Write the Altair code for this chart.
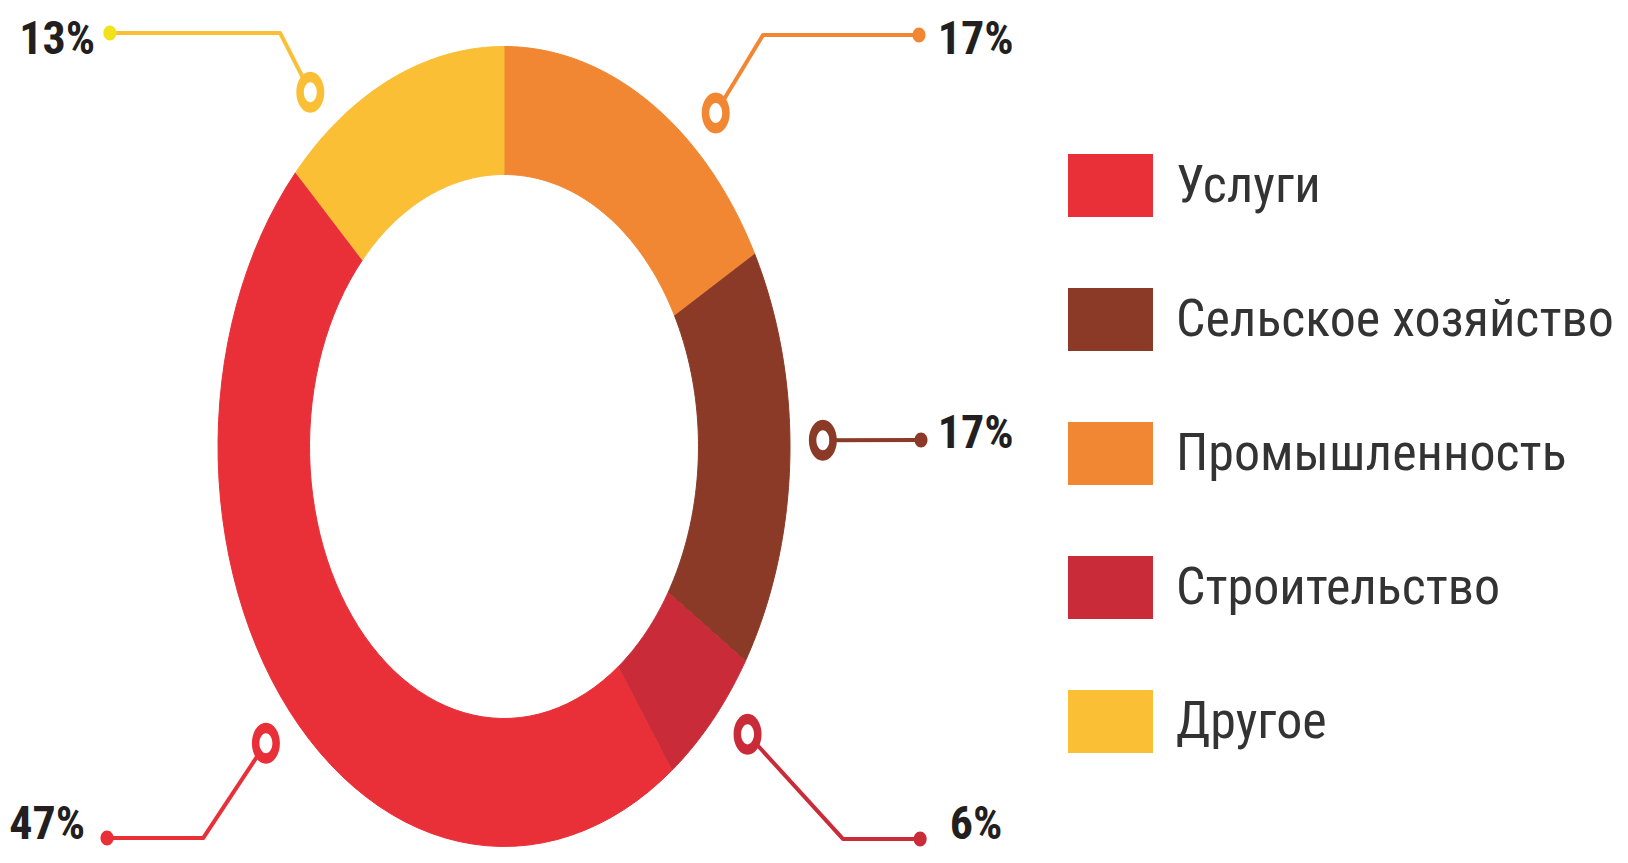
import math
import altair as alt
import pandas as pd

# ---------------- data ----------------
# sectors clockwise from 12 o'clock
categories = ["Промышленность", "Сельское хозяйство", "Строительство", "Услуги", "Другое"]
shares = [17, 17, 6, 47, 13]
share_labels = ["17%", "17%", "6%", "47%", "13%"]

legend_order = ["Услуги", "Сельское хозяйство", "Промышленность", "Строительство", "Другое"]
legend_colors = ["#E92F38", "#8C3A28", "#F28733", "#C92B38", "#FBBF36"]

# ---------------- layout (normalised donut units: outer radius = 1) ----------------
W, H = 1612, 847
CX, CY = 496.0, 438.5      # donut centre inside the plot area (px)
RX, RY = 286.0, 400.0      # outer radii (px)
RIN = 0.68                 # inner radius / outer radius
N = 60                     # arc resolution per sector edge

XDOM = [-CX / RX, (W - CX) / RX]
YDOM = [(CY - H) / RY, CY / RY]

# leader layout, same order as `categories`
LEAD_ANGLE = [41.6, 89.2, 130.2, 228.3, 322.6]   # marker direction, deg clockwise from top
LEAD_R = 1.115
LEAD_ELBOW = [(0.906, 1.029), None, (1.185, -0.981), (-1.052, -0.979), (-0.783, 1.034)]
LEAD_DOT = [(1.451, 1.029), (1.458, 0.016), (1.455, -0.981), (-1.388, -0.979), (-1.378, 1.034)]
LABEL_POS = [(1.517, 1.016), (1.517, 0.0325), (1.559, -0.946), (-1.465, -0.946), (-1.430, 1.016)]
LABEL_SIDE = ["right", "right", "right", "left", "left"]
DOT_COLORS = ["#F28733", "#8C3A28", "#C92B38", "#E92F38", "#F2E11B"]

cat_color = dict(zip(legend_order, legend_colors))

NUM_FONT = "Liberation Sans Narrow, Roboto Condensed, DejaVu Sans Condensed, Liberation Sans, sans-serif"
TXT_FONT = NUM_FONT

RECT_PATH = "M-1,-0.741L1,-0.741L1,0.741L-1,0.741Z"
RING_PATH = ("M0,-1A0.683,1,0,1,1,0,1A0.683,1,0,1,1,0,-1Z"
             "M0,-0.488A0.317,0.488,0,1,0,0,0.488A0.317,0.488,0,1,0,0,-0.488Z")
HOLE_PATH = "M0,-0.5A0.33,0.5,0,1,1,0,0.5A0.33,0.5,0,1,1,0,-0.5Z"
DOT_PATH = "M0,-1A0.87,1,0,1,1,0,1A0.87,1,0,1,1,0,-1Z"


def X(f):
    return alt.X(f, type="quantitative", scale=alt.Scale(domain=XDOM, nice=False, zero=False), axis=None)


def Y(f):
    return alt.Y(f, type="quantitative", scale=alt.Scale(domain=YDOM, nice=False, zero=False), axis=None)


# ---------------- donut ----------------
df = pd.DataFrame({"cat": categories, "value": shares, "ord": list(range(len(categories)))})
color_scale = alt.Scale(domain=legend_order, range=legend_colors)

ring = (
    alt.Chart(df)
    .transform_joinaggregate(total="sum(value)")
    .transform_window(cum="sum(value)", sort=[alt.SortField("ord")], frame=[None, 0])
    .transform_calculate(start="datum.cum - datum.value")
    .transform_calculate(pts=f"sequence(0, {2 * N + 2})")
    .transform_flatten(["pts"])
    .transform_calculate(frac=f"datum.pts <= {N} ? datum.pts / {N} : ({2 * N + 1} - datum.pts) / {N}")
    .transform_calculate(rr=f"datum.pts <= {N} ? 1 : {RIN}")
    .transform_calculate(ang="2 * PI * (datum.start + datum.frac * datum.value) / datum.total")
    .transform_calculate(u="datum.rr * sin(datum.ang)")
    .transform_calculate(v="datum.rr * cos(datum.ang)")
    .mark_line(strokeWidth=1, strokeJoin="round", interpolate="linear")
    .encode(
        x=X("u"),
        y=Y("v"),
        order=alt.Order("pts:Q"),
        fill=alt.Fill(
            "cat:N",
            scale=color_scale,
            legend=alt.Legend(
                title=None,
                orient="none",
                legendX=1060,
                legendY=135,
                direction="vertical",
                symbolType=RECT_PATH,
                symbolSize=7225,
                symbolStrokeWidth=0,
                symbolOpacity=1,
                labelFont=TXT_FONT,
                labelFontSize=52,
                labelColor="#333333",
                labelLimit=900,
                labelOffset=23,
                rowPadding=60,
                padding=0,
            ),
        ),
        stroke=alt.Stroke("cat:N", scale=color_scale, legend=None),
    )
)

# ---------------- leaders ----------------
line_rows, mark_rows, dot_rows, lab_rows = [], [], [], []
for i, cat in enumerate(categories):
    a = math.radians(LEAD_ANGLE[i])
    mu, mv = LEAD_R * math.sin(a), LEAD_R * math.cos(a)
    pts = [(mu, mv)]
    if LEAD_ELBOW[i] is not None:
        pts.append(LEAD_ELBOW[i])
    pts.append(LEAD_DOT[i])
    for s, (pu, pv) in enumerate(pts):
        line_rows.append({"lid": i, "seq": s, "u": pu, "v": pv, "col": cat_color[cat]})
    mark_rows.append({"u": mu, "v": mv, "col": cat_color[cat]})
    dot_rows.append({"u": LEAD_DOT[i][0], "v": LEAD_DOT[i][1], "col": DOT_COLORS[i]})
    lab_rows.append({"u": LABEL_POS[i][0], "v": LABEL_POS[i][1], "txt": share_labels[i], "side": LABEL_SIDE[i]})

lines_df = pd.DataFrame(line_rows)
marks_df = pd.DataFrame(mark_rows)
dots_df = pd.DataFrame(dot_rows)
labs_df = pd.DataFrame(lab_rows)

leader_lines = alt.Chart(lines_df).mark_line(strokeWidth=4, strokeCap="round", strokeJoin="round").encode(
    x=X("u"), y=Y("v"), detail="lid:N", order=alt.Order("seq:Q"),
    color=alt.Color("col:N", scale=None),
)

holes = alt.Chart(marks_df).mark_point(shape=HOLE_PATH, size=1681, filled=True, fill="white", opacity=1, strokeWidth=0).encode(
    x=X("u"), y=Y("v"),
)

rings = alt.Chart(marks_df).mark_point(shape=RING_PATH, size=1681, filled=True, opacity=1, strokeWidth=0).encode(
    x=X("u"), y=Y("v"), color=alt.Color("col:N", scale=None),
)

dots = alt.Chart(dots_df).mark_point(shape=DOT_PATH, size=225, filled=True, opacity=1, strokeWidth=0).encode(
    x=X("u"), y=Y("v"), color=alt.Color("col:N", scale=None),
)

labels_right = alt.Chart(labs_df).transform_filter("datum.side == 'right'").mark_text(
    align="left", baseline="middle", font=NUM_FONT, fontWeight="bold", fontSize=46, color="#231F20"
).encode(x=X("u"), y=Y("v"), text="txt:N")

labels_left = alt.Chart(labs_df).transform_filter("datum.side == 'left'").mark_text(
    align="right", baseline="middle", font=NUM_FONT, fontWeight="bold", fontSize=46, color="#231F20"
).encode(x=X("u"), y=Y("v"), text="txt:N")

chart = (
    alt.layer(ring, leader_lines, holes, rings, dots, labels_right, labels_left)
    .properties(width=W, height=H, padding=0, autosize=alt.AutoSizeParams(type="none"), background="white")
    .configure_view(stroke=None)
)

chart.save("out.html", embed_options={"renderer": "svg", "actions": False})
